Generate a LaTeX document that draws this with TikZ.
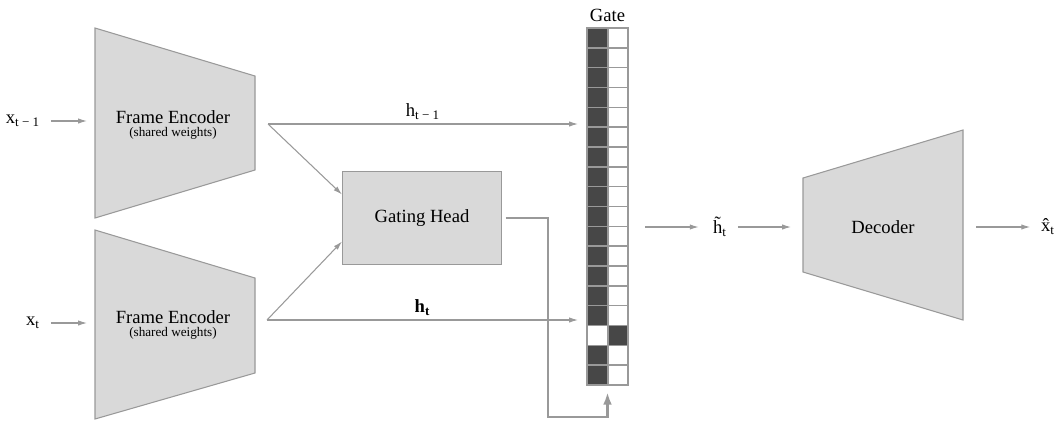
\documentclass[tikz,border=0pt]{standalone}
\usepackage{fontspec}
\setmainfont{Liberation Serif}
\usetikzlibrary{arrows.meta,calc}
\definecolor{boxgray}{HTML}{D9D9D9}
\definecolor{linegray}{HTML}{999999}
\definecolor{cellgray}{HTML}{474747}
\tikzset{
    block/.style={draw=linegray, fill=boxgray, line width=0.6pt},
    conn/.style={draw=linegray, line width=0.6pt, -{Latex[length=5pt,width=3pt]}},
    gateconn/.style={draw=linegray, line width=1.3pt, -{Latex[length=7pt,width=5pt]}},
    cell/.style={draw=linegray, line width=0.9pt},
    lbl/.style={font=\rmfamily\fontsize{10.6}{12}\selectfont, inner sep=1pt},
    small/.style={font=\rmfamily\fontsize{7.5}{9}\selectfont, inner sep=1pt},
}
\begin{document}
\begin{tikzpicture}[x=0.02cm, y=-0.02cm]
        \useasboundingbox (0,0) rectangle (1060,423);

        %% FRAME ENCODER (t-1)
        \draw[block] (95,28) -- (255,76) -- (255,170) -- (95,218) -- cycle;
        \node[lbl] (enc1) at (173,117) {Frame Encoder};
        \node[small] (enc1sub) at (173,133) {(shared weights)};
        % Input
        \node[lbl] (xprev) at (23,121) {x\textsubscript{t − 1}};
        \coordinate (enc1in) at (87,121);
        \coordinate (enc1out) at (268,124);

        %% FRAME ENCODER (t)
        \draw[block] (95,230) -- (255,278) -- (255,373) -- (95,419) -- cycle;
        \node[lbl] (enc2) at (173,317) {Frame Encoder};
        \node[small] (enc2sub) at (173,333) {(shared weights)};
        % Input
        \node[lbl] (xcur) at (33,323) {x\textsubscript{t}};
        \coordinate (enc2in) at (87,323);
        \coordinate (enc2out) at (267,320);

        %% GATING HEAD
        \node[block, lbl, minimum width=3.18cm, minimum height=1.86cm] (gating) at (422,218) {Gating Head};

        %% GATE
        \node[inner sep=0, minimum width=0.82cm, minimum height=7.14cm] (gatecol) at (607.5,206.5) {};
        \foreach \i in {0,...,17} {
            \pgfmathsetmacro{\ytop}{28+19.833*\i}
            \ifnum\i=15 \def\lcol{white}\def\rcol{cellgray}\else \def\lcol{cellgray}\def\rcol{white}\fi
            \draw[cell, fill=\lcol] (587,\ytop) rectangle ++(21,19.833);
            \draw[cell, fill=\rcol] (608,\ytop) rectangle ++(20,19.833);
        }
        \node[lbl, above=2pt] (gatelbl) at (gatecol.north) {Gate};
        \coordinate (gateprev) at (578,124);
        \coordinate (gatecur) at (578,320);
        \coordinate (gatejoin) at (548,417);
        \coordinate (gateout) at (645,227);

        %% DECODER
        \draw[block] (803,178) -- (963,130) -- (963,320) -- (803,272) -- cycle;
        \node[lbl] (dec) at (883,227) {Decoder};
        \node[lbl] (htilde) at (720,227) {\~{h}\textsubscript{t}};
        \node[lbl] (xhat) at (1048,227) {\^{x}\textsubscript{t}};
        \coordinate (decin) at (791,227);
        \coordinate (decout) at (976,227);

        % Connectors
        \draw[conn, shorten <=5pt] (xprev) -- (enc1in);
        \draw[conn, shorten <=5pt] (xcur) -- (enc2in);
        \draw[conn] (enc1out) -- (gateprev) node[lbl, midway, above=1pt] (hprev) {h\textsubscript{t − 1}};
        \draw[conn] (enc2out) -- (gatecur) node[lbl, midway, above=1pt] (hcur) {\textbf{h\textsubscript{t}}};
        \draw[conn] (enc1out) -- ($(gating.north west)!0.25!(gating.south west)$);
        \draw[conn] (enc2out) -- ($(gating.north west)!0.75!(gating.south west)$);
        \draw[gateconn, shorten <=2pt, shorten >=4pt] (gating.east) -| (gatejoin) -| (gatecol.south);
        \draw[conn, shorten >=7pt] (gateout) -- (htilde);
        \draw[conn, shorten <=5pt] (htilde) -- (decin);
        \draw[conn, shorten >=5pt] (decout) -- (xhat);
    \end{tikzpicture}
\end{document}
